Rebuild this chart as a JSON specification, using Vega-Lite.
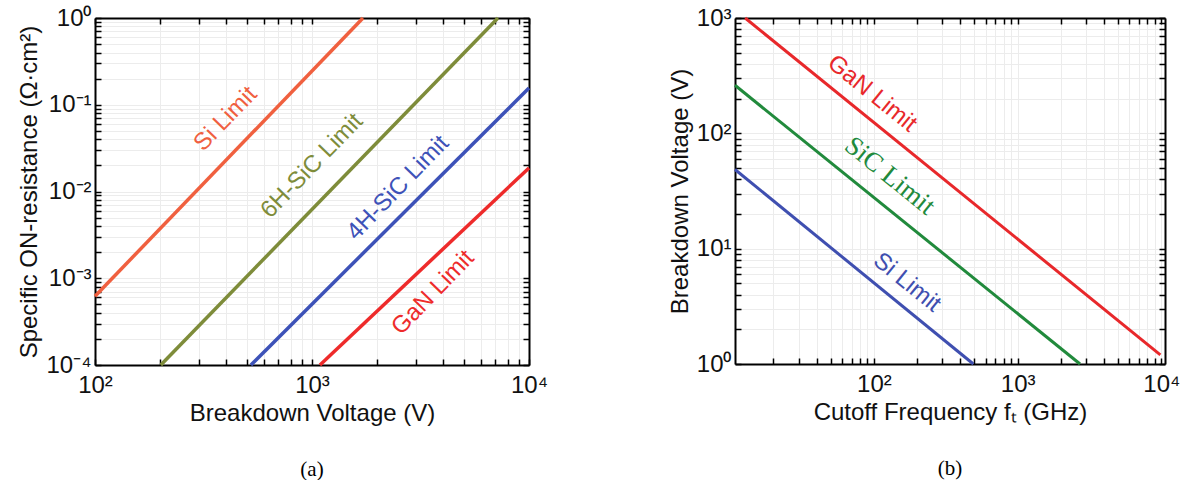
{
  "$schema": "https://vega.github.io/schema/vega-lite/v6.json",
  "padding": {"left": 17, "top": 6, "right": 0, "bottom": 0},
  "background": "white",
  "datasets": {
    "a_lines": [
      {"series": "Si", "v": 100, "r": 0.00062},
      {"series": "Si", "v": 1718, "r": 1},
      {"series": "6H-SiC", "v": 201, "r": 0.0001},
      {"series": "6H-SiC", "v": 7197, "r": 1},
      {"series": "4H-SiC", "v": 523, "r": 0.0001},
      {"series": "4H-SiC", "v": 10000, "r": 0.156},
      {"series": "GaN", "v": 1088, "r": 0.0001},
      {"series": "GaN", "v": 10000, "r": 0.0187}
    ],
    "a_labels": [
      {"series": "Si", "label": "Si Limit", "v": 400, "r": 0.0685},
      {"series": "6H-SiC", "label": "6H-SiC Limit", "v": 1000, "r": 0.0197},
      {"series": "4H-SiC", "label": "4H-SiC Limit", "v": 2490, "r": 0.011},
      {"series": "GaN", "label": "GaN Limit", "v": 3614, "r": 0.00068}
    ],
    "b_lines": [
      {"material": "GaN", "f": 12.7, "bv": 1000},
      {"material": "GaN", "f": 9840, "bv": 1.2},
      {"material": "SiC", "f": 10.8, "bv": 261},
      {"material": "SiC", "f": 2717, "bv": 1},
      {"material": "Si", "f": 10.8, "bv": 48.6},
      {"material": "Si", "f": 492, "bv": 1}
    ],
    "b_labels": [
      {"material": "GaN", "label": "GaN Limit", "f": 97, "bv": 221},
      {"material": "SiC", "label": "SiC Limit", "f": 129, "bv": 42.7},
      {"material": "Si", "label": "Si Limit", "f": 170, "bv": 5.08}
    ]
  },
  "hconcat": [
    {
      "width": 434,
      "height": 347,
      "title": {"text": "(a)", "orient": "bottom", "font": "Liberation Serif", "fontSize": 21, "fontWeight": "normal", "color": "#000", "offset": 34},
      "layer": [
        {
          "data": {"name": "a_lines"},
          "mark": {"type": "line", "strokeWidth": 3.5},
          "encoding": {
            "x": {"field": "v", "type": "quantitative", "scale": {"type": "log", "domain": [100, 10000]},
              "axis": {"orient": "bottom", "title": "Breakdown Voltage (V)", "grid": true, "labelPadding": 14,
                "values": [100,200,300,400,500,600,700,800,900,1000,2000,3000,4000,5000,6000,7000,8000,9000,10000],
                "labelExpr": "abs(log(datum.value)/LN10 - round(log(datum.value)/LN10)) < 0.001 ? '10' + replace(replace(replace(replace(replace(replace('' + round(log(datum.value)/LN10), '-', '⁻'), '0', '⁰'), '1', '¹'), '2', '²'), '3', '³'), '4', '⁴') : ''"}},
            "y": {"field": "r", "type": "quantitative", "scale": {"type": "log", "domain": [0.0001, 1]},
              "axis": {"orient": "left", "title": "Specific ON-resistance (Ω·cm²)", "grid": true,
                "values": [0.0001,0.0002,0.0003,0.0004,0.0005,0.0006,0.0007,0.0008,0.0009,0.001,0.002,0.003,0.004,0.005,0.006,0.007,0.008,0.009,0.01,0.02,0.03,0.04,0.05,0.06,0.07,0.08,0.09,0.1,0.2,0.3,0.4,0.5,0.6,0.7,0.8,0.9,1],
                "labelExpr": "abs(log(datum.value)/LN10 - round(log(datum.value)/LN10)) < 0.001 ? '10' + replace(replace(replace(replace(replace(replace('' + round(log(datum.value)/LN10), '-', '⁻'), '0', '⁰'), '1', '¹'), '2', '²'), '3', '³'), '4', '⁴') : ''"}},
            "color": {"field": "series", "type": "nominal", "legend": null,
              "scale": {"domain": ["Si", "6H-SiC", "4H-SiC", "GaN"], "range": ["#f0603f", "#7e8c3a", "#3d52b8", "#ee2b2b"]}}
          }
        },
        {
          "data": {"name": "a_labels"},
          "mark": {"type": "text", "angle": -46, "font": "Liberation Sans", "fontSize": 24},
          "encoding": {
            "x": {"field": "v", "type": "quantitative", "scale": {"type": "log", "domain": [100, 10000]},
              "axis": {"orient": "top", "title": null, "labels": false, "grid": false,
                "values": [100,200,300,400,500,600,700,800,900,1000,2000,3000,4000,5000,6000,7000,8000,9000,10000]}},
            "y": {"field": "r", "type": "quantitative", "scale": {"type": "log", "domain": [0.0001, 1]},
              "axis": {"orient": "right", "title": null, "labels": false, "grid": false,
                "values": [0.0001,0.0002,0.0003,0.0004,0.0005,0.0006,0.0007,0.0008,0.0009,0.001,0.002,0.003,0.004,0.005,0.006,0.007,0.008,0.009,0.01,0.02,0.03,0.04,0.05,0.06,0.07,0.08,0.09,0.1,0.2,0.3,0.4,0.5,0.6,0.7,0.8,0.9,1]}},
            "text": {"field": "label"},
            "color": {"field": "series", "type": "nominal", "legend": null,
              "scale": {"domain": ["Si", "6H-SiC", "4H-SiC", "GaN"], "range": ["#f0603f", "#7e8c3a", "#3d52b8", "#ee2b2b"]}}
          }
        }
      ],
      "resolve": {"axis": {"x": "independent", "y": "independent"}}
    },
    {
      "width": 430,
      "height": 346,
      "title": {"text": "(b)", "orient": "bottom", "font": "Liberation Serif", "fontSize": 21, "fontWeight": "normal", "color": "#000", "offset": 34},
      "layer": [
        {
          "data": {"name": "b_lines"},
          "mark": {"type": "line", "strokeWidth": 3},
          "encoding": {
            "x": {"field": "f", "type": "quantitative", "scale": {"type": "log", "domain": [10.8, 10600]},
              "axis": {"orient": "bottom", "title": "Cutoff Frequency fₜ (GHz)", "grid": true, "labelPadding": 14,
                "values": [20,30,40,50,60,70,80,90,100,200,300,400,500,600,700,800,900,1000,2000,3000,4000,5000,6000,7000,8000,9000,10000],
                "labelExpr": "abs(log(datum.value)/LN10 - round(log(datum.value)/LN10)) < 0.001 ? '10' + replace(replace(replace(replace(replace(replace('' + round(log(datum.value)/LN10), '-', '⁻'), '0', '⁰'), '1', '¹'), '2', '²'), '3', '³'), '4', '⁴') : ''"}},
            "y": {"field": "bv", "type": "quantitative", "scale": {"type": "log", "domain": [1, 1000]},
              "axis": {"orient": "left", "title": "Breakdown Voltage (V)", "grid": true,
                "values": [1,2,3,4,5,6,7,8,9,10,20,30,40,50,60,70,80,90,100,200,300,400,500,600,700,800,900,1000],
                "labelExpr": "abs(log(datum.value)/LN10 - round(log(datum.value)/LN10)) < 0.001 ? '10' + replace(replace(replace(replace(replace(replace('' + round(log(datum.value)/LN10), '-', '⁻'), '0', '⁰'), '1', '¹'), '2', '²'), '3', '³'), '4', '⁴') : ''"}},
            "stroke": {"field": "material", "type": "nominal", "legend": null,
              "scale": {"domain": ["GaN", "SiC", "Si"], "range": ["#e8282b", "#218a3c", "#3f4fb0"]}}
          }
        },
        {
          "data": {"name": "b_labels"},
          "transform": [{"filter": "datum.material != 'SiC'"}],
          "mark": {"type": "text", "angle": 39, "font": "Liberation Sans", "fontSize": 24},
          "encoding": {
            "x": {"field": "f", "type": "quantitative", "scale": {"type": "log", "domain": [10.8, 10600]},
              "axis": {"orient": "top", "title": null, "labels": false, "grid": false,
                "values": [20,30,40,50,60,70,80,90,100,200,300,400,500,600,700,800,900,1000,2000,3000,4000,5000,6000,7000,8000,9000,10000]}},
            "y": {"field": "bv", "type": "quantitative", "scale": {"type": "log", "domain": [1, 1000]},
              "axis": {"orient": "right", "title": null, "labels": false, "grid": false,
                "values": [1,2,3,4,5,6,7,8,9,10,20,30,40,50,60,70,80,90,100,200,300,400,500,600,700,800,900,1000]}},
            "text": {"field": "label"},
            "fill": {"field": "material", "type": "nominal", "legend": null,
              "scale": {"domain": ["GaN", "SiC", "Si"], "range": ["#e8282b", "#218a3c", "#3f4fb0"]}}
          }
        },
        {
          "data": {"name": "b_labels"},
          "transform": [{"filter": "datum.material == 'SiC'"}],
          "mark": {"type": "text", "angle": 39, "font": "Liberation Serif", "fontSize": 27},
          "encoding": {
            "x": {"field": "f", "type": "quantitative", "scale": {"type": "log", "domain": [10.8, 10600]}, "axis": null},
            "y": {"field": "bv", "type": "quantitative", "scale": {"type": "log", "domain": [1, 1000]}, "axis": null},
            "text": {"field": "label"},
            "fill": {"field": "material", "type": "nominal", "legend": null,
              "scale": {"domain": ["GaN", "SiC", "Si"], "range": ["#e8282b", "#218a3c", "#3f4fb0"]}}
          }
        }
      ],
      "resolve": {"axis": {"x": "independent", "y": "independent"}}
    }
  ],
  "resolve": {"scale": {"color": "independent", "stroke": "independent", "fill": "independent"}},
  "spacing": 120,
  "config": {
    "view": {"stroke": null},
    "axis": {
      "labelFont": "Liberation Sans", "labelFontSize": 24, "labelColor": "#111",
      "titleFont": "Liberation Sans", "titleFontSize": 24, "titleFontWeight": "normal", "titleColor": "#111",
      "domainColor": "#000", "domainWidth": 2,
      "tickColor": "#000", "tickWidth": 1.5, "tickSize": -6, "labelPadding": 10,
      "gridColor": "#ececec", "gridWidth": 1,
      "labelFlush": false, "labelOverlap": false
    }
  }
}
